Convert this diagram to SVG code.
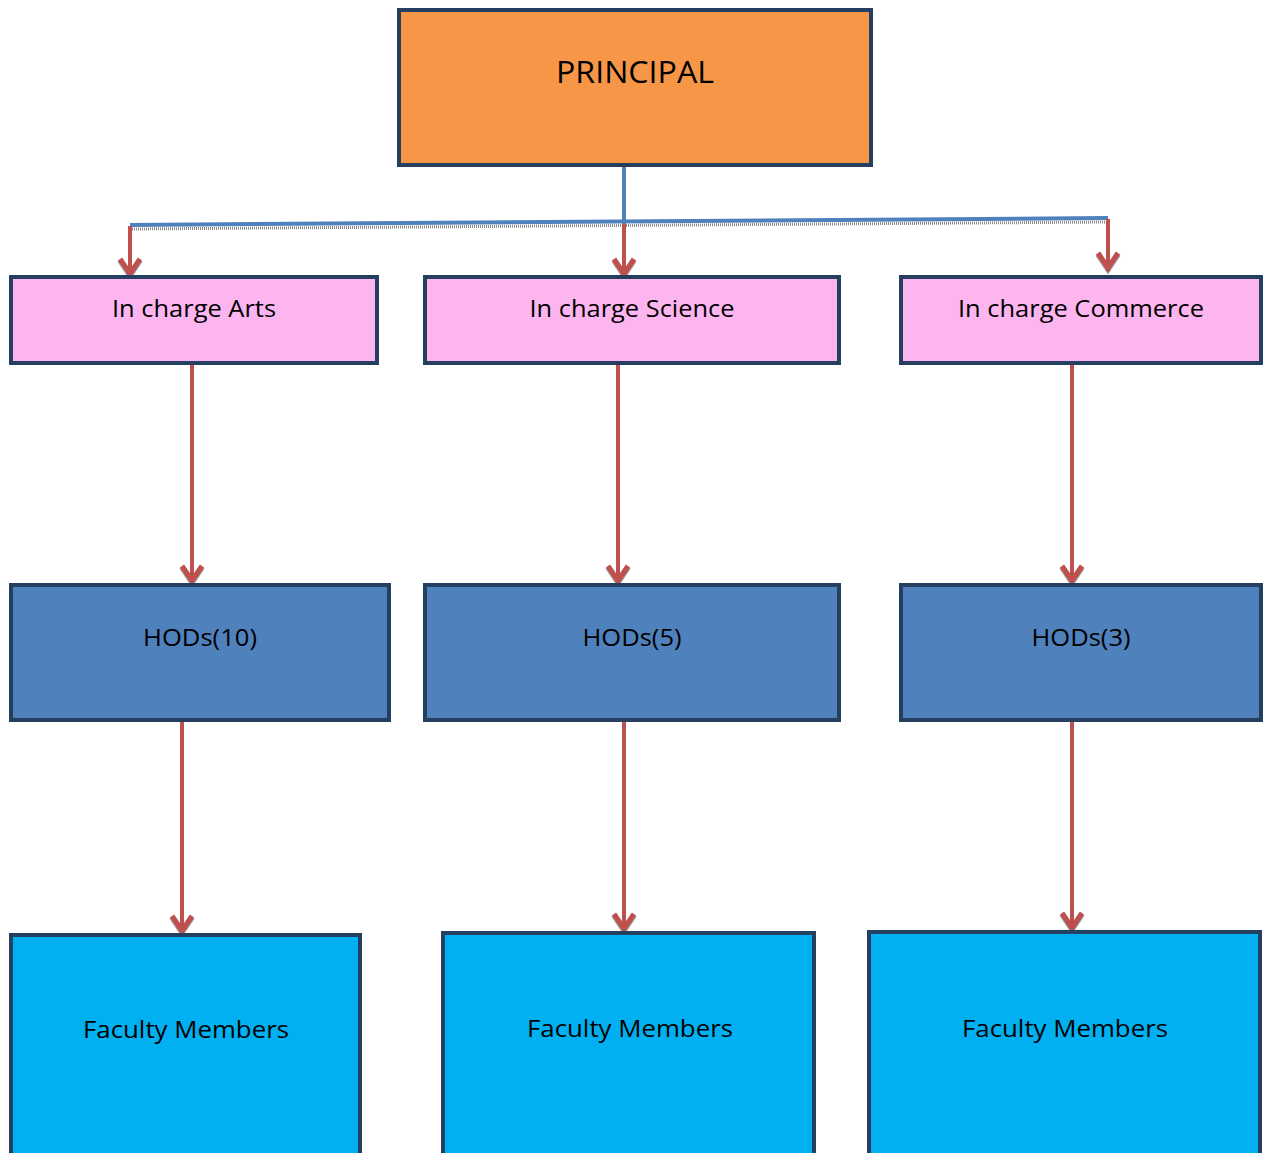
<svg xmlns="http://www.w3.org/2000/svg" width="1266" height="1153" viewBox="0 0 1266 1153">
<style>
.box{stroke:#243F60;stroke-width:4}
.p{fill:#F79646}
.ic{fill:#FDB5F0}
.hod{fill:#4F81BD}
.fac{fill:#00B0F0}
text{font-family:"Open Sans","Liberation Sans",Arial,sans-serif;fill:#000;text-anchor:middle}
.t{font-size:24px}
.arrow{stroke:#C0504D;stroke-width:4;fill:none;marker-end:url(#ah)}
.blue{stroke:#4F81BD;stroke-width:4;fill:none}
</style>
<defs>
<marker id="ah" markerUnits="userSpaceOnUse" markerWidth="40" markerHeight="40" viewBox="-20 -20 40 40" refX="0" refY="0" orient="auto" overflow="visible">
<path d="M-17,-10 L-2,0 L-17,10" fill="none" stroke="#3a3a3a" stroke-opacity="0.5" stroke-width="6" stroke-linejoin="miter"/>
<path d="M-18,-10 L-3,0 L-18,10" fill="none" stroke="#C0504D" stroke-width="5" stroke-linejoin="miter"/>
</marker>
</defs>
<rect width="1266" height="1153" fill="#fff"/>
<g id="connectors">
<line class="blue" x1="624" y1="165" x2="624" y2="224"/>
<line x1="130" y1="229" x2="1108" y2="222" stroke="#8a8a8a" stroke-width="3" stroke-dasharray="1 1"/>
<line class="blue" x1="130" y1="225" x2="1108" y2="218"/>
<line class="arrow" x1="130" y1="226" x2="130" y2="277"/>
<line class="arrow" x1="624" y1="224" x2="624" y2="277"/>
<line class="arrow" x1="1108" y1="219" x2="1108" y2="271"/>
<line class="arrow" x1="192" y1="364" x2="192" y2="584"/>
<line class="arrow" x1="618" y1="364" x2="618" y2="584"/>
<line class="arrow" x1="1072" y1="364" x2="1072" y2="584"/>
<line class="arrow" x1="182" y1="721" x2="182" y2="934"/>
<line class="arrow" x1="624" y1="721" x2="624" y2="932"/>
<line class="arrow" x1="1072" y1="721" x2="1072" y2="931"/>
</g>
<g id="principal">
<rect class="box p" x="399" y="10" width="472" height="155"/>
<text x="635" y="83" font-size="31" textLength="158" lengthAdjust="spacingAndGlyphs">PRINCIPAL</text>
</g>
<g id="incharge-arts">
<rect class="box ic" x="11" y="277" width="366" height="86"/>
<text class="t" x="194" y="317" textLength="164" lengthAdjust="spacingAndGlyphs">In charge Arts</text>
</g>
<g id="incharge-science">
<rect class="box ic" x="425" y="277" width="414" height="86"/>
<text class="t" x="632" y="317" textLength="205" lengthAdjust="spacingAndGlyphs">In charge Science</text>
</g>
<g id="incharge-commerce">
<rect class="box ic" x="901" y="277" width="360" height="86"/>
<text class="t" x="1081" y="317" textLength="246" lengthAdjust="spacingAndGlyphs">In charge Commerce</text>
</g>
<g id="hods-10">
<rect class="box hod" x="11" y="585" width="378" height="135"/>
<text class="t" x="200" y="646" textLength="114" lengthAdjust="spacingAndGlyphs">HODs(10)</text>
</g>
<g id="hods-5">
<rect class="box hod" x="425" y="585" width="414" height="135"/>
<text class="t" x="632" y="646" textLength="99" lengthAdjust="spacingAndGlyphs">HODs(5)</text>
</g>
<g id="hods-3">
<rect class="box hod" x="901" y="585" width="360" height="135"/>
<text class="t" x="1081" y="646" textLength="99" lengthAdjust="spacingAndGlyphs">HODs(3)</text>
</g>
<g id="faculty-arts">
<rect class="box fac" x="11" y="935" width="349" height="230"/>
<text class="t" x="186" y="1038" textLength="206" lengthAdjust="spacingAndGlyphs">Faculty Members</text>
</g>
<g id="faculty-science">
<rect class="box fac" x="443" y="933" width="371" height="232"/>
<text class="t" x="630" y="1037" textLength="206" lengthAdjust="spacingAndGlyphs">Faculty Members</text>
</g>
<g id="faculty-commerce">
<rect class="box fac" x="869" y="932" width="391" height="233"/>
<text class="t" x="1065" y="1037" textLength="206" lengthAdjust="spacingAndGlyphs">Faculty Members</text>
</g>
</svg>
